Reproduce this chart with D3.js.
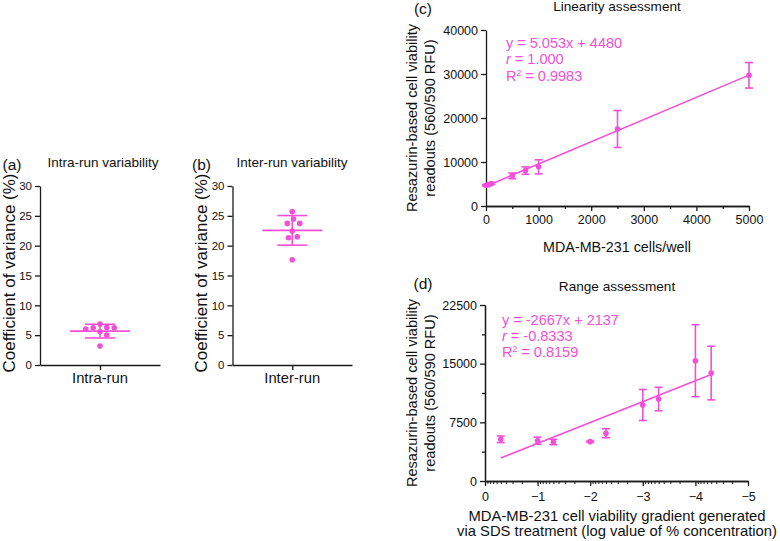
<!DOCTYPE html>
<html><head><meta charset="utf-8">
<script src="https://cdn.jsdelivr.net/npm/d3@7"></script>
<style>
body{margin:0;background:#fff}
svg{display:block}
text{font-family:'Liberation Sans',Arial,Helvetica,sans-serif;fill:#111}
</style>
</head><body>
<svg id="fig" width="780" height="541"></svg>
<script>
// ---------- DATA ----------
const intraRunCV = [6.3, 6.24, 6.86, 6.02, 6.24, 5.57, 5.02, 3.18];
const interRunCV = [25.7, 24.46, 23.73, 23.73, 22.44, 21.5, 21.33, 17.64];
const cvTicks = [0, 5, 10, 15, 20, 25, 30];

const cellsPerWell = [0, 50, 100, 500, 750, 1000, 2500, 5000];
const linMean = [4700, 4850, 5100, 6850, 8050, 8900, 17500, 29700];
const linSD = [150, 150, 200, 650, 850, 1600, 4200, 2900];
const linFit = [5.053, 4480];          // slope, intercept
const linEq = ["y = 5.053x + 4480", "1.000", "0.9983"];
const linXTicks = [0, 1000, 2000, 3000, 4000, 5000];
const linYTicks = [0, 10000, 20000, 30000, 40000];

const logConc = [-0.3, -1, -1.3, -2, -2.3, -3, -3.3, -4, -4.3];
const rangeMean = [5330, 5150, 4990, 5030, 6100, 9720, 10480, 15380, 13800];
const rangeSD = [420, 450, 350, 80, 570, 1980, 1500, 4600, 3430];
const rangeFit = [-2667, 2137];        // slope, intercept
const rangeEq = ["y = -2667x + 2137", "-0.8333", "0.8159"];
const rangeXTicks = [0, -1, -2, -3, -4, -5];
const rangeYTicks = [0, 7500, 15000, 22500];

// ---------- STYLE ----------
const PINK = "#f54fd8";
const AX = "#1a1a1a";
const FONT = "'Liberation Sans',Arial,Helvetica,sans-serif";
const svg = d3.select("#fig");

function styleAxis(g, fs) {
  g.attr("font-family", FONT).attr("font-size", fs);
  g.select(".domain").attr("stroke", AX).attr("stroke-width", 1.3);
  g.selectAll(".tick line").attr("stroke", AX).attr("stroke-width", 1.3);
  g.selectAll(".tick text").attr("fill", "#111");
}

function txt(x, y, s, fs, anchor, rot) {
  const t = svg.append("text").attr("x", x).attr("y", y)
    .attr("font-size", fs).attr("text-anchor", anchor || "middle").text(s);
  if (rot) t.attr("transform", `rotate(${rot},${x},${y})`);
  return t;
}

// beeswarm offsets (collision-based)
function swarm(vals, ypx, minDist) {
  const order = d3.range(vals.length).sort((i, j) => vals[j] - vals[i]);
  const placed = [], off = new Array(vals.length);
  for (const i of order) {
    const y = ypx(vals[i]);
    for (let s = 0; s < 400; s++) {
      const cand = (s % 2 ? 1 : -1) * Math.ceil(s / 2) * 0.25;
      if (placed.every(p => Math.hypot(p.x - cand, p.y - y) >= minDist)) {
        off[i] = cand; placed.push({x: cand, y}); break;
      }
    }
  }
  return off;
}

// ---------- PANELS (a) & (b) ----------
function dotPanel(vals, cat, title, letter, xL, xR, letterX, titleX) {
  const y = d3.scaleLinear().domain([0, 30]).range([365, 186]);
  const x = d3.scalePoint().domain([cat]).range([xL, xR]).padding(0.5);
  const gy = svg.append("g").attr("transform", `translate(${xL},0)`)
    .call(d3.axisLeft(y).tickValues(cvTicks).tickSize(5).tickSizeOuter(0).tickPadding(3));
  styleAxis(gy, 11.5);
  const gx = svg.append("g").attr("transform", `translate(0,${y(0)})`)
    .call(d3.axisBottom(x).tickSize(5).tickSizeOuter(0).tickFormat(""));
  styleAxis(gx, 14.5);
  txt(x(cat), 382.5, cat, 14.8);
  txt(titleX, 167, title, 13.5);
  txt(letterX, 170, letter, 15.5);
  txt(xL - 25.5, 273, "Coefficient of variance (%)", 17, "middle", -90);

  const cx = x(cat);
  const m = d3.mean(vals), sd = d3.deviation(vals);
  const off = swarm(vals, v => y(v), 7.5);
  svg.append("g").selectAll("circle").data(vals).join("circle")
    .attr("cx", (d, i) => cx + off[i]).attr("cy", d => y(d)).attr("r", 2.8).attr("fill", PINK);
  const g = svg.append("g").attr("stroke", PINK).attr("stroke-width", 1.6);
  g.append("line").attr("x1", cx - 30).attr("x2", cx + 30).attr("y1", y(m)).attr("y2", y(m));
  g.append("line").attr("x1", cx).attr("x2", cx).attr("y1", y(m - sd)).attr("y2", y(m + sd));
  [m - sd, m + sd].forEach(v => g.append("line").attr("x1", cx - 15).attr("x2", cx + 15).attr("y1", y(v)).attr("y2", y(v)));
}
dotPanel(intraRunCV, "Intra-run", "Intra-run variability", "(a)", 40, 160, 12, 103);
dotPanel(interRunCV, "Inter-run", "Inter-run variability", "(b)", 232.5, 352, 201.5, 292);

// ---------- helpers for (c),(d) ----------
function eqBlock(x0, y0, lines, fs, gap) {
  txt(x0, y0, lines[0], fs, "start").style("fill", PINK);
  const t2 = svg.append("text").attr("x", x0).attr("y", y0 + gap).attr("font-size", fs).style("fill", PINK);
  t2.append("tspan").attr("font-style", "italic").text("r");
  t2.append("tspan").text(" = " + lines[1]);
  const t3 = svg.append("text").attr("x", x0).attr("y", y0 + 2 * gap).attr("font-size", fs).style("fill", PINK);
  t3.append("tspan").text("R");
  t3.append("tspan").attr("font-size", fs * 0.6).attr("dy", -fs * 0.36).text("2");
  t3.append("tspan").attr("dy", fs * 0.36).text(" = " + lines[2]);
}

function errPoints(x, y, xs, ms, sds) {
  const g = svg.append("g").attr("stroke", PINK).attr("stroke-width", 1.6);
  xs.forEach((xv, i) => {
    const px = x(xv), yt = y(ms[i] + sds[i]), yb = y(ms[i] - sds[i]);
    g.append("line").attr("x1", px).attr("x2", px).attr("y1", yt).attr("y2", yb);
    g.append("line").attr("x1", px - 4).attr("x2", px + 4).attr("y1", yt).attr("y2", yt);
    g.append("line").attr("x1", px - 4).attr("x2", px + 4).attr("y1", yb).attr("y2", yb);
  });
  svg.append("g").selectAll("circle").data(xs).join("circle")
    .attr("cx", d => x(d)).attr("cy", (d, i) => y(ms[i])).attr("r", 2.8).attr("fill", PINK);
}

function fitLine(x, y, xs, fit) {
  const [a, b] = d3.extent(xs);
  svg.append("line").attr("x1", x(a)).attr("y1", y(fit[0] * a + fit[1]))
    .attr("x2", x(b)).attr("y2", y(fit[0] * b + fit[1]))
    .attr("stroke", PINK).attr("stroke-width", 1.6);
}

function ylab2(yc, l1, l2) {
  txt(417, yc, l1, 14.6, "middle", -90);
  txt(434.5, yc, l2, 14.6, "middle", -90);
}

// ---------- PANEL (c) ----------
{
  const x = d3.scaleLinear().domain([0, 5000]).range([486, 749]);
  const y = d3.scaleLinear().domain([0, 40000]).range([206, 30]);
  const minor = d3.range(500, 5000, 1000);
  const gxm = svg.append("g").attr("transform", `translate(0,206)`)
    .call(d3.axisBottom(x).tickValues(minor).tickSize(3).tickSizeOuter(0).tickFormat(""));
  styleAxis(gxm, 12.5);
  const gx = svg.append("g").attr("transform", `translate(0,206)`)
    .call(d3.axisBottom(x).tickValues(linXTicks).tickSize(5).tickSizeOuter(0).tickPadding(4).tickFormat(d3.format("d")));
  styleAxis(gx, 12.5);
  const gy = svg.append("g").attr("transform", `translate(486,0)`)
    .call(d3.axisLeft(y).tickValues(linYTicks).tickSize(5).tickSizeOuter(0).tickPadding(3).tickFormat(d3.format("d")));
  styleAxis(gy, 12.5);
  fitLine(x, y, cellsPerWell, linFit);
  errPoints(x, y, cellsPerWell, linMean, linSD);
  txt(423, 14, "(c)", 15.5);
  txt(617, 10.5, "Linearity assessment", 13.6);
  txt(617, 251.5, "MDA-MB-231 cells/well", 14.3);
  ylab2(118, "Resazurin-based cell viability", "readouts (560/590 RFU)");
  eqBlock(506, 47.5, linEq, 14.5, 16.7);
}

// ---------- PANEL (d) ----------
{
  const x = d3.scaleLinear().domain([0, -5]).range([485, 748]);
  const y = d3.scaleLinear().domain([0, 22500]).range([481, 305]);
  const minorX = [];
  for (let k = 0; k < 5; k++) for (let m = 2; m <= 9; m++) minorX.push(-(k + 1) + Math.log10(m));
  const gxm = svg.append("g").attr("transform", `translate(0,481)`)
    .call(d3.axisBottom(x).tickValues(minorX).tickSize(3).tickSizeOuter(0).tickFormat(""));
  styleAxis(gxm, 12.5);
  gxm.selectAll(".tick line").attr("stroke-width", 1);
  const gx = svg.append("g").attr("transform", `translate(0,481)`)
    .call(d3.axisBottom(x).tickValues(rangeXTicks).tickSize(5).tickSizeOuter(0).tickPadding(6).tickFormat(d3.format("d")));
  styleAxis(gx, 12.5);
  const gym = svg.append("g").attr("transform", `translate(485,0)`)
    .call(d3.axisLeft(y).tickValues([3750, 11250, 18750]).tickSize(3).tickSizeOuter(0).tickFormat(""));
  styleAxis(gym, 12.5);
  const gy = svg.append("g").attr("transform", `translate(485,0)`)
    .call(d3.axisLeft(y).tickValues(rangeYTicks).tickSize(5).tickSizeOuter(0).tickPadding(3).tickFormat(d3.format("d")));
  styleAxis(gy, 12.5);
  fitLine(x, y, logConc, rangeFit);
  errPoints(x, y, logConc, rangeMean, rangeSD);
  txt(423, 289, "(d)", 15.5);
  txt(617, 291, "Range assessment", 13.6);
  txt(617, 520.5, "MDA-MB-231 cell viability gradient generated", 14.8);
  txt(617, 535.5, "via SDS treatment (log value of % concentration)", 14.8);
  ylab2(393, "Resazurin-based cell viability", "readouts (560/590 RFU)");
  eqBlock(502, 325, rangeEq, 14.5, 16);
}
</script>
</body></html>
